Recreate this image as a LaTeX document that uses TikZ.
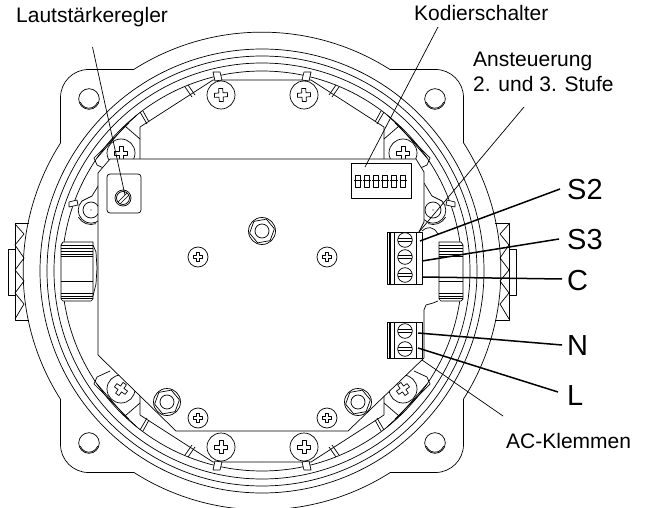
\documentclass[tikz,border=0pt]{standalone}
\usepackage{fontspec}
\setmainfont{Liberation Sans}
\tikzset{
  thinline/.style={draw=black,line width=0.7pt,line join=round},
  leaderthin/.style={draw=black,line width=0.7pt},
  leaderthick/.style={draw=black,line width=1.5pt},
  smalllabel/.style={anchor=base west,inner sep=0pt,font=\fontsize{21}{25}\selectfont},
  biglabel/.style={anchor=base west,inner sep=0pt,font=\fontsize{29}{33}\selectfont},
}
\newcommand\crossglyph[4]{% x,y,half length,rotation
  \begin{scope}[shift={(#1,#2)},rotate=#4,scale=#3]
    \draw[thinline] (-.32,-1)--(.32,-1)--(.32,-.32)--(1,-.32)--(1,.32)--(.32,.32)--(.32,1)--(-.32,1)--(-.32,.32)--(-1,.32)--(-1,-.32)--(-.32,-.32)--cycle;
  \end{scope}}
\newcommand\bigscrew[3]{%
  \draw[thinline,fill=white] (#1,#2) circle[radius=14];
  \crossglyph{#1}{#2}{6.5}{#3}}
\newcommand\smallscrew[2]{%
  \draw[thinline,fill=white] (#1,#2) circle[radius=10];
  \crossglyph{#1}{#2}{4.7}{0}}
\newcommand\standoff[2]{%
  \draw[thinline,fill=white] (#1,#2) circle[radius=13.5];
  \draw[thinline] (#1,#2) ++(10:12.6) -- ++(130:12.6) -- ++(190:12.6) -- ++(250:12.6) -- ++(310:12.6) -- ++(10:12.6) -- cycle;
  \draw[thinline] (#1,#2) circle[radius=7];}
\newcommand\slotscrew[2]{%
  \draw[thinline,fill=white] (#1,#2) circle[radius=7.3];
  \draw[thinline] ($(#1,#2)+(-7.2,1.3)$) -- ($(#1,#2)+(7.2,1.3)$);
  \draw[thinline] ($(#1,#2)+(-7.2,-1.3)$) -- ($(#1,#2)+(7.2,-1.3)$);}
\usetikzlibrary{calc}
\begin{document}
\begin{tikzpicture}[x=1pt,y=1pt]
\useasboundingbox (0,0) rectangle (648,-508);
\fill[white] (0,0) rectangle (648,-508);
% ---- housing, centred
\begin{scope}[shift={(262,-271)}]
  \draw[thinline] (201.5,128) -- (201.5,173.5) arc[start angle=0,end angle=90,radius=28]
    -- (128,201.5) arc[start angle=57.5,end angle=122.5,radius=238.5]
    -- (-173.5,201.5) arc[start angle=90,end angle=180,radius=28]
    -- (-201.5,128) arc[start angle=147.5,end angle=212.5,radius=238.5]
    -- (-201.5,-173.5) arc[start angle=180,end angle=270,radius=28]
    -- (-128,-201.5) arc[start angle=237.5,end angle=302.5,radius=238.5]
    -- (173.5,-201.5) arc[start angle=270,end angle=360,radius=28]
    -- (201.5,-128) arc[start angle=-32.5,end angle=32.5,radius=238.5] -- cycle;
  \foreach \r in {222,215,208,200} \draw[thinline] (0,0) circle[radius=\r];
  % corner holes
  \foreach \sx/\sy in {1/1,-1/1,1/-1,-1/-1}{
    \draw[thinline] (173*\sx,172*\sy) circle[radius=10.3];
    \draw[thinline] (173*\sx,172*\sy) ++(200:9.2) arc[start angle=200,end angle=340,radius=9.2];
  }
  % knurled side parts, side lugs
  \foreach \sx in {1,-1}{
    \begin{scope}[xscale=\sx]
      \draw[thinline] (233,48) -- (247,48) -- (247,-49) -- (233,-49);
      \draw[thinline] (247,22) -- (254,22) -- (254,-24) -- (247,-24);
      \draw[thinline] (247,47) -- (238,37) -- (247,26) -- (238,13) -- (247,1) -- (238,-10) -- (247,-22) -- (238,-33) -- (247,-48);
    \end{scope}
  }
  % four lid quadrants
  \foreach \sx/\sy in {1/1,-1/1,1/-1,-1/-1}{
    \begin{scope}[xscale=\sx,yscale=\sy]
      \draw[thinline] (0,191) -- (-49,191) -- (-122,144) -- (-122,112);
      \draw[thinline,fill=white] (-49,199) -- (-42,199) -- (-40,191) -- (-47,190) -- cycle;
      \draw[thinline] (-77,184) -- (-70,174);
      \draw[thinline] (-74,186) -- (-67,176);
      \draw[thinline] (-122,159) -- (-115,147);
      \draw[thinline] (-119,160) -- (-113,149);
      \draw[thinline] (-122,132) -- (-137,145) -- (-125,156);
      \draw[thinline] (-137,145) -- (-165,113);
      \draw[thinline] (-133,148) -- (-168,113) -- (-165,106) -- (-152,100);
    \end{scope}
  }
  \foreach \sx/\sy in {1/1,-1/1,1/-1,-1/-1}{
    \begin{scope}[xscale=\sx,yscale=\sy]
      \draw[thinline,fill=white] (-141,118) circle[radius=14];
      \pgfmathsetmacro{\rt}{17.5*(1-\sy)}
      \crossglyph{-141}{118}{6.5}{\rt}
    \end{scope}
  }
  % side rounds
  \foreach \sx in {1,-1}{
    \begin{scope}[xscale=\sx]
      \draw[thinline,fill=white] (180,70) arc[start angle=45,end angle=-135,radius=13];
      \draw[thinline] (171,61) ++(-30:14.5) arc[start angle=-30,end angle=-110,radius=14.5];
      \draw[thinline] (171,61) circle[radius=8];
      \fill (171,61) circle[radius=.7];
      \draw[thinline,fill=white] (185,71) -- (193,69) -- (193,64) -- (184,66) -- cycle;
      \draw[thinline] (162,88) -- (170,75) -- (180,70);
    \end{scope}
  }
  % glands
  \foreach \sx/\gx in {1/177,-1/169}{
    \begin{scope}[xscale=\sx]
      \draw[thinline,fill=white] (\gx,29) -- (199,29) -- (201,26) -- (201,-28) -- (199,-30) -- (\gx+2,-30) -- (\gx,-28) -- cycle;
      \foreach \yy in {26,23,20,17,15,-10,-22,-25,-27} \draw[thinline] (\gx,\yy) -- (201,\yy);
    \end{scope}
  }
\end{scope}
% ---- board
\fill[white] (98,-173) -- (110,-159) -- (416,-159) -- (424,-172) -- (424,-357) -- (348,-431) -- (176,-431) -- (98,-355) -- cycle;
\draw[thinline] (424,-222) -- (424,-172) -- (416,-159) -- (110,-159) -- (98,-173) -- (98,-355) -- (176,-431) -- (348,-431) -- (424,-358) -- (424,-310) -- (426,-305) -- (433,-303) -- (438,-301);
\draw[thinline] (424,-222) -- (419,-232);
\draw[thinline] (422,-231) .. controls (428,-226) and (433,-226) .. (438,-234);
% left gland bulge
\draw[thinline] (93,-245) -- (96,-252) -- (97,-268) -- (96,-284) -- (93,-296);
% trimmer
\draw[thinline,fill=white,rounded corners=3pt] (107,-174) rectangle (141,-213);
\draw[thinline] (123,-198) circle[radius=8];
\draw[thinline] (123,-198) circle[radius=6.5];
\draw[thinline] (118,-202) -- (127,-193);
\draw[thinline] (120,-204) -- (129,-195);
% dip switch
\draw[thinline,fill=white] (351,-163) rectangle (411,-198);
\foreach \k in {0,...,5}{
  \draw[thinline] (355+9.1*\k,-175) rectangle ++(5,-12);
  \draw[thinline] (354+9.1*\k,-180.5) -- ++(7.5,0);
}
% screws and standoffs on the board
\standoff{262}{-231}
\standoff{167}{-402}
\standoff{358}{-402}
\smallscrew{198}{-257}
\smallscrew{327}{-257}
\smallscrew{198}{-418}
\smallscrew{327}{-418}
\bigscrew{221}{-95}{3}
\bigscrew{304}{-95}{3}
\bigscrew{221}{-447}{0}
\bigscrew{304}{-447}{0}
% terminal blocks
\draw[thinline,fill=white] (387,-232) rectangle (422,-284);
\foreach \xx in {389,390,394,416} \draw[thinline] (\xx,-232) -- (\xx,-284);
\slotscrew{405}{-240}
\slotscrew{405}{-257}
\slotscrew{405}{-275}
\draw[thinline,fill=white] (387,-322) rectangle (422,-358);
\foreach \xx in {389,390,394,416} \draw[thinline] (\xx,-322) -- (\xx,-358);
\slotscrew{405}{-331}
\slotscrew{405}{-349}
% labels
\node[smalllabel] (lLaut) at (16,-22.5) {Lautstärkeregler};
\node[smalllabel] (lKod) at (414,-21) {Kodierschalter};
\node[smalllabel] (lAn) at (473,-67) {Ansteuerung};
\node[smalllabel] (lSt) at (473,-92) {2. und 3. Stufe};
\node[smalllabel] (lAC) at (506,-448) {AC-Klemmen};
\node[biglabel] (lS2) at (567,-199) {S2};
\node[biglabel] (lS3) at (567,-249) {S3};
\node[biglabel] (lC) at (567,-290) {C};
\node[biglabel] (lN) at (567,-355) {N};
\node[biglabel] (lL) at (567,-405) {L};
% leader end points
\coordinate (pLautA) at (92.5,-47);
\coordinate (pLautB) at (125,-195);
\coordinate (pKodA) at (438,-27);
\coordinate (pKodB) at (365,-167);
\coordinate (pAnA) at (524,-107);
\coordinate (pAnB) at (419,-232);
\coordinate (pACA) at (503,-416);
\coordinate (pACB) at (422,-360);
\coordinate (pS2) at (420,-241);
\coordinate (pS3) at (422,-261);
\coordinate (pC) at (422,-277);
\coordinate (pN) at (418,-333);
\coordinate (pL) at (418,-348);
\coordinate (qS2) at (560,-189);
\coordinate (qS3) at (559,-239);
\coordinate (qC) at (562,-279);
\coordinate (qN) at (562,-345);
\coordinate (qL) at (558,-392);
\draw[leaderthin] (pLautA) -- (pLautB);
\draw[leaderthin] (pKodA) -- (pKodB);
\draw[leaderthin] (pAnA) -- (pAnB);
\draw[leaderthin] (pACA) -- (pACB);
\draw[leaderthick] (qS2) -- (pS2);
\draw[leaderthick] (qS3) -- (pS3);
\draw[leaderthick] (qC) -- (pC);
\draw[leaderthick] (qN) -- (pN);
\draw[leaderthick] (qL) -- (pL);
\end{tikzpicture}
\end{document}
